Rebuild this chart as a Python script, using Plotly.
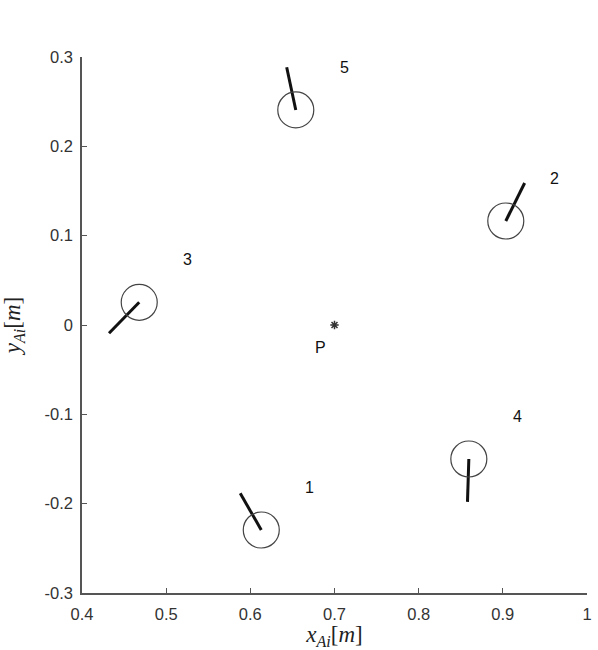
import plotly.graph_objects as go

# Leg anchor points (circle centres) and the free ends of each leg, in metres
leg_ids = ["1", "2", "3", "4", "5"]
anchor_x = [0.613, 0.9035, 0.468, 0.8596, 0.654]
anchor_y = [-0.2295, 0.1164, 0.0254, -0.150, 0.2407]
end_x = [0.588, 0.9259, 0.4321, 0.858, 0.6432]
end_y = [-0.1884, 0.159, -0.0093, -0.198, 0.2885]

# Platform reference point P
p_x = [0.70]
p_y = [0.0]

# Offset of the number labels from each anchor
label_dx = 0.05
label_dy = 0.048

x_ticks = [0.4, 0.5, 0.6, 0.7, 0.8, 0.9, 1.0]
x_ticklabels = ["0.4", "0.5", "0.6", "0.7", "0.8", "0.9", "1"]
y_ticks = [-0.3, -0.2, -0.1, 0.0, 0.1, 0.2, 0.3]
y_ticklabels = ["-0.3", "-0.2", "-0.1", "0", "0.1", "0.2", "0.3"]

fig = go.Figure()

# Leg segments
for ax, ay, ex, ey in zip(anchor_x, anchor_y, end_x, end_y):
    fig.add_trace(go.Scatter(
        x=[ax, ex], y=[ay, ey], mode="lines",
        line=dict(color="#111111", width=3), hoverinfo="skip",
    ))

# Anchor circles
fig.add_trace(go.Scatter(
    x=anchor_x, y=anchor_y, mode="markers",
    marker=dict(symbol="circle-open", size=36, color="#444444",
                line=dict(width=1.2, color="#444444")),
    hoverinfo="skip",
))

# Reference point
fig.add_trace(go.Scatter(
    x=p_x, y=p_y, mode="markers",
    marker=dict(symbol="asterisk", size=7, color="#333333",
                line=dict(width=1.5, color="#333333")),
    hoverinfo="skip",
))

label_font = dict(family="Liberation Sans, Arial, sans-serif", size=16, color="#111111")
for lid, ax, ay in zip(leg_ids, anchor_x, anchor_y):
    fig.add_annotation(x=ax + label_dx, y=ay + label_dy, text=lid,
                       showarrow=False, xanchor="left", yanchor="middle",
                       font=label_font)
fig.add_annotation(x=p_x[0] - 0.025, y=p_y[0] - 0.025, text="P",
                   showarrow=False, xanchor="left", yanchor="middle",
                   font=label_font)

title_font = dict(family="Liberation Serif, Times New Roman, serif", size=23, color="#222222")
tick_font = dict(family="Liberation Sans, Arial, sans-serif", size=16.5, color="#333333")

fig.update_layout(
    width=598, height=650,
    margin=dict(l=82, r=6, t=57, b=57),
    paper_bgcolor="white", plot_bgcolor="white",
    showlegend=False,
    xaxis=dict(
        range=[0.4, 1.0], tickvals=x_ticks, ticktext=x_ticklabels,
        showgrid=False, zeroline=False, showline=True,
        linecolor="#555555", linewidth=1.5,
        ticks="inside", ticklen=5, tickcolor="#555555",
        tickfont=tick_font, ticklabelstandoff=5,
        title=dict(text="<i>x</i><sub><i>Ai</i></sub>[<i>m</i>]",
                   font=title_font, standoff=4),
    ),
    yaxis=dict(
        range=[-0.3, 0.3], tickvals=y_ticks, ticktext=y_ticklabels,
        showgrid=False, zeroline=False, showline=True,
        linecolor="#555555", linewidth=1.5,
        ticks="inside", ticklen=5, tickcolor="#555555",
        tickfont=tick_font, ticklabelstandoff=4,
        title=dict(text="<i>y</i><sub><i>Ai</i></sub>[<i>m</i>]",
                   font=title_font, standoff=18),
    ),
)

fig.write_html("out.html")
